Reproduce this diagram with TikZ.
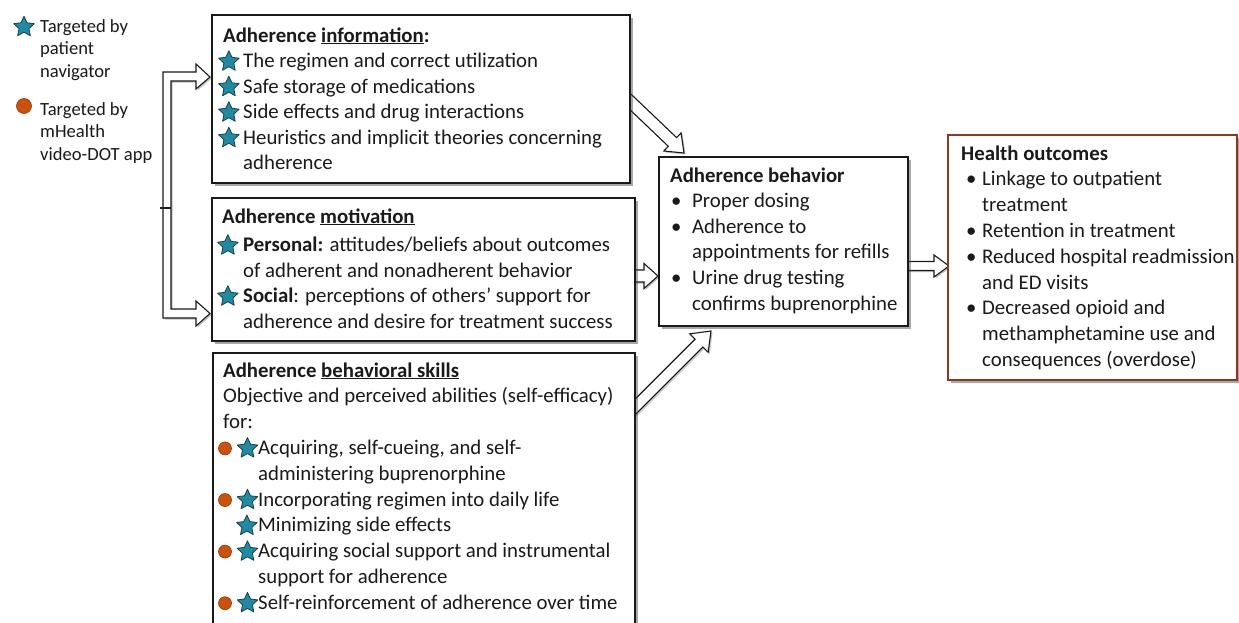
\documentclass[tikz,border=0pt]{standalone}
\usepackage{fontspec}
\setmainfont{Carlito}
\usetikzlibrary{calc,shadows}

\definecolor{starfill}{HTML}{2389A0}
\definecolor{starline}{HTML}{17404F}
\definecolor{dotfill}{HTML}{C9520E}
\definecolor{dotline}{HTML}{8E3506}
\definecolor{outcome}{HTML}{8B3A1E}
\definecolor{ink}{HTML}{1A1A1A}

\newcommand\bodyfont{\fontsize{20.8}{25.5}\selectfont}
\newcommand\skillfont{\fontsize{20.8}{25.8}\selectfont}
\newcommand\legendfont{\fontsize{18.6}{22.5}\selectfont}

\tikzset{
  pics/staricon/.style={code={%
    \filldraw[fill=starfill,draw=starline,line width=0.8pt,line join=round]
      (90:10.8pt) -- (126:5.2pt) -- (162:10.8pt) -- (198:5.2pt) -- (234:10.8pt) --
      (270:5.2pt) -- (306:10.8pt) -- (342:5.2pt) -- (18:10.8pt) -- (54:5.2pt) -- cycle;}},
  pics/doticon/.style={code={%
    \filldraw[fill=dotfill,draw=dotline,line width=0.6pt] (0,0) circle[radius=6.5pt];}},
  pics/legenddot/.style={code={%
    \filldraw[fill=dotfill,draw=dotline,line width=0.6pt] (0,0) circle[radius=7.5pt];}},
  box/.style={draw=ink, line width=1.3pt, fill=white, inner sep=0pt,
    drop shadow={shadow xshift=2.5pt,shadow yshift=-2.5pt,opacity=0.45,fill=black!75}},
  outbox/.style={box, draw=outcome, line width=1.6pt},
  boxtext/.style={anchor=base west, inner sep=0pt, text=ink},
  arrowbody/.style={draw=ink, line width=1.1pt, fill=white, line join=miter,
    drop shadow={shadow xshift=1.5pt,shadow yshift=-1.5pt,opacity=0.35,fill=black!70}},
}

% inline markers used inside the text blocks
\newcommand\staric{\tikz[baseline=-6pt]\pic{staricon};}
\newcommand\dotic{\tikz[baseline=-6pt]\pic{doticon};}
\newcommand\STa{\makebox[25pt][l]{\staric}}
\newcommand\STb{\makebox[26pt][l]{\staric}}
\newcommand\CS{\makebox[40pt][l]{\dotic\hspace{5pt}\staric}}
\newcommand\SO{\makebox[40pt][l]{\hspace*{18pt}\staric}}
\newcommand\BLc{\hspace*{1pt}\makebox[21pt][l]{\textbullet}}
\newcommand\BLh{\hspace*{5pt}\makebox[16pt][l]{\textbullet}}

% block arrow: from, to, half shaft width, half head width, head length
\newcommand\blockarrow[5]{%
  \coordinate (ba-base) at ($(#2)!#5!(#1)$);
  \draw[arrowbody] ($(#1)!#3!90:(#2)$) -- ($(ba-base)!#3!90:(#2)$)
    -- ($(ba-base)!#4!90:(#2)$) -- (#2) -- ($(ba-base)!#4!-90:(#2)$)
    -- ($(ba-base)!#3!-90:(#2)$) -- ($(#1)!#3!-90:(#2)$) -- cycle;}

\begin{document}
\begin{tikzpicture}[x=1pt,y=-1pt]
\useasboundingbox (0,0) rectangle (1239,622);
\clip (0,0) rectangle (1239,622);
\fill[white] (0,0) rectangle (1239,622);

% legend
\pic at (24,27) {staricon};
\node[boxtext] (leg-nav) at (40,32) {\parbox[t]{160pt}{\legendfont Targeted by\\patient\\navigator}};
\pic at (24,106) {legenddot};
\node[boxtext] (leg-app) at (40,115) {\parbox[t]{160pt}{\legendfont Targeted by\\mHealth\\video-DOT app}};

% connectors (drawn first so that the boxes cover their tails)
\coordinate (a1s) at (618,90);  \coordinate (a1e) at (684,153);
\coordinate (a2s) at (628,276); \coordinate (a2e) at (658,276);
\coordinate (a3s) at (624,418); \coordinate (a3e) at (711,331);
\coordinate (a4s) at (900,266); \coordinate (a4e) at (949,266);
\blockarrow{a1s}{a1e}{6pt}{12.5pt}{16pt}
\blockarrow{a2s}{a2e}{6pt}{12.5pt}{14pt}
\blockarrow{a3s}{a3e}{5.5pt}{13pt}{17pt}
\blockarrow{a4s}{a4e}{4.5pt}{11pt}{15pt}

% fork feeding information and motivation
\coordinate (fork) at (167,208);
\draw[arrowbody] (196,72) -- (163,72) -- (163,318) -- (196,318) -- (196,326)
  -- (210,313.5) -- (196,301) -- (196,309) -- (171,309) -- (171,81)
  -- (196,81) -- (196,89) -- (210,77) -- (196,64) -- cycle;
\draw[ink, line width=1.4pt] ($(fork)+(-7,0)$) -- ($(fork)+(4,0)$);

% boxes
\node[box, minimum width=418pt, minimum height=168pt] (info) at (421,99) {};
\node[box, minimum width=423pt, minimum height=143pt] (motiv) at (423.5,269.5) {};
\node[box, minimum width=422pt, minimum height=297pt] (skills) at (424,501.5) {};
\node[box, minimum width=249pt, minimum height=169pt] (behav) at (783.5,241.5) {};
\node[outbox, minimum width=289pt, minimum height=245pt] (health) at (1092.5,257.5) {};

% box contents
\node[boxtext] (info-text) at (218,42) {\parbox[t]{410pt}{\bodyfont
\hspace*{5pt}\textbf{Adherence \underline{information}:}\\
\STa The regimen and correct utilization\\
\STa Safe storage of medications\\
\STa Side effects and drug interactions\\
\STa Heuristics and implicit theories concerning\\
\hspace*{25pt}adherence}};

\node[boxtext] (motiv-text) at (217,223) {\parbox[t]{415pt}{\bodyfont
\hspace*{5pt}\textbf{Adherence \underline{motivation}}\\[3pt]
\STb\textbf{Personal:} attitudes/beliefs about outcomes\\
\hspace*{26pt}of adherent and nonadherent behavior\\
\STb\textbf{Social}: perceptions of others’ support for\\
\hspace*{26pt}adherence and desire for treatment success}};

\node[boxtext] (skills-text) at (218,377) {\parbox[t]{415pt}{\skillfont
\hspace*{5pt}\textbf{Adherence \underline{behavioral skills}}\\
\hspace*{5pt}Objective and perceived abilities (self-efficacy)\\
\hspace*{5pt}for:\\
\CS Acquiring, self-cueing, and self-\\
\hspace*{40pt}administering buprenorphine\\
\CS Incorporating regimen into daily life\\
\SO Minimizing side effects\\
\CS Acquiring social support and instrumental\\
\hspace*{40pt}support for adherence\\
\CS Self-reinforcement of adherence over time}};

\node[boxtext] (behav-text) at (670,182) {\parbox[t]{240pt}{\fontsize{20.8}{25.6}\selectfont
\textbf{Adherence behavior}\\
\BLc Proper dosing\\
\BLc Adherence to\\
\hspace*{22pt}appointments for refills\\
\BLc Urine drug testing\\
\hspace*{22pt}confirms buprenorphine}};

\node[boxtext] (health-text) at (961,160) {\parbox[t]{280pt}{\fontsize{20.8}{25.8}\selectfont
\textbf{Health outcomes}\\
\BLh Linkage to outpatient\\
\hspace*{21pt}treatment\\
\BLh Retention in treatment\\
\BLh Reduced hospital readmission\\
\hspace*{21pt}and ED visits\\
\BLh Decreased opioid and\\
\hspace*{21pt}methamphetamine use and\\
\hspace*{21pt}consequences (overdose)}};
\end{tikzpicture}
\end{document}
